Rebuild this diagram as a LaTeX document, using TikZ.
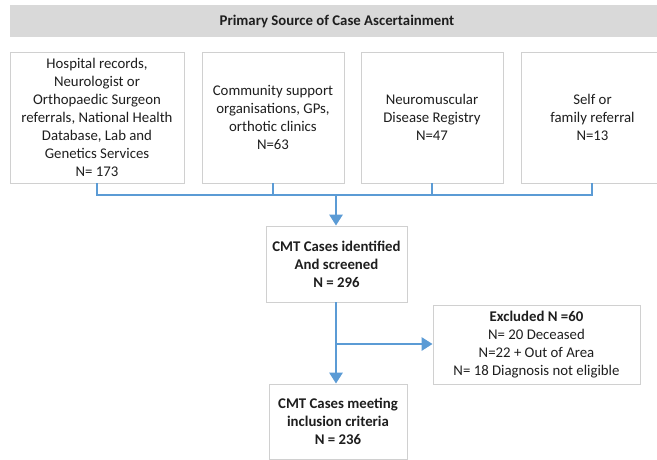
\documentclass[tikz,border=0pt]{standalone}
\usepackage{fontspec}
\setmainfont{Carlito}
\usetikzlibrary{arrows.meta}
\definecolor{flowblue}{HTML}{5B9BD5}
\definecolor{boxgray}{HTML}{D0D0D0}
\definecolor{headgray}{HTML}{D9D9D9}
\definecolor{txt}{HTML}{1E1E1E}
\begin{document}
\begin{tikzpicture}[x=1pt,y=-1pt,
  srcbox/.style={draw=boxgray, line width=0.8pt, fill=white, align=center, text=txt,
    inner sep=0pt, font=\fontsize{14.8}{18}\selectfont},
  headbox/.style={fill=headgray, draw=none, text=txt, inner sep=0pt,
    font=\bfseries\fontsize{14.8}{18}\selectfont},
  flow/.style={draw=flowblue, line width=2.8pt},
  flowarrow/.style={flow, -{Triangle[length=11pt,width=13pt]}}]
\useasboundingbox (0,0) rectangle (657,460);
\fill[white] (0,0) rectangle (657,460);
% header
\node[headbox, minimum width=654, minimum height=32] (head) at (337,21) {Primary Source of Case Ascertainment};
% source boxes
\node[srcbox, minimum width=174, minimum height=131] (b1) at (97,117.5)
  {Hospital records,\\Neurologist or\\Orthopaedic Surgeon\\referrals, National Health\\Database, Lab and\\Genetics Services\\N= 173};
\node[srcbox, minimum width=142, minimum height=131] (b2) at (273,117.5)
  {Community support\\organisations, GPs,\\orthotic clinics\\N=63};
\node[srcbox, minimum width=142, minimum height=131] (b3) at (432,117.5)
  {Neuromuscular\\Disease Registry\\N=47};
\node[srcbox, minimum width=143, minimum height=131] (b4) at (592.5,117.5)
  {Self or\\family referral\\N=13};
% middle boxes
\node[srcbox, minimum width=141, minimum height=76, font=\bfseries\fontsize{14.8}{18}\selectfont] (cmt) at (336.5,264)
  {CMT Cases identified\\And screened\\N = 296};
\node[srcbox, minimum width=207, minimum height=79] (excl) at (536.5,344.5)
  {\textbf{Excluded N =60}\\N= 20 Deceased\\N=22 + Out of Area\\N= 18 Diagnosis not eligible};
\node[srcbox, minimum width=138, minimum height=75, font=\bfseries\fontsize{14.8}{18}\selectfont] (incl) at (338,421.5)
  {CMT Cases meeting\\inclusion criteria\\N = 236};
% connectors
\coordinate (bus) at (336,195);
\coordinate (split) at (336,344);
\draw[flow] (b1.south -| 97,0) |- (bus);
\draw[flow] (b2.south) |- (bus);
\draw[flow] (b3.south) |- (bus);
\draw[flow] (b4.south -| 592,0) |- (bus);
\draw[flowarrow] (bus) -- (bus |- cmt.north);
\draw[flowarrow] (split |- cmt.south) -- (split |- incl.north);
\draw[flowarrow] (split) -- (excl.west |- split);
\end{tikzpicture}
\end{document}
